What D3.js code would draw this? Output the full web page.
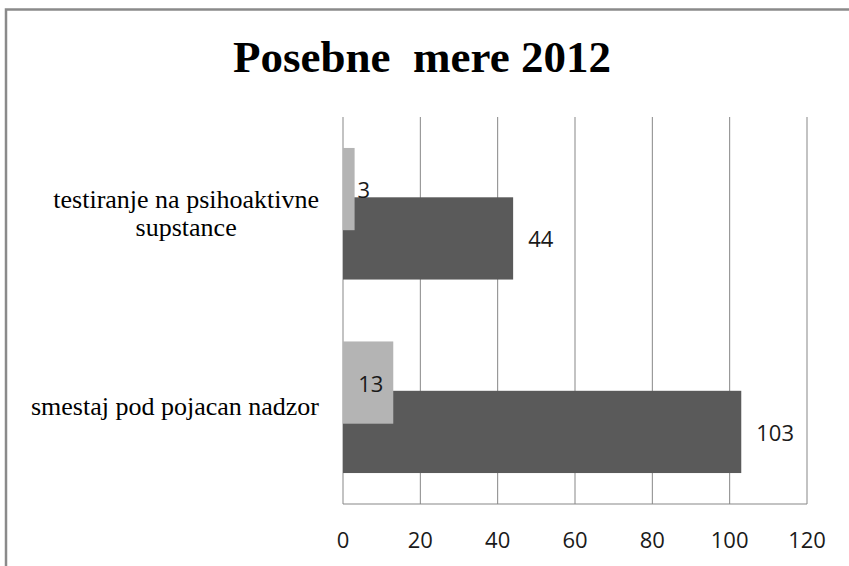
<!DOCTYPE html>
<html>
<head>
<meta charset="utf-8">
<script src="https://cdn.jsdelivr.net/npm/d3@7"></script>
<style>
  html, body { margin: 0; padding: 0; background: #fff; }
  svg { display: block; }
  .cat { font-family: "Liberation Serif", "Times New Roman", serif; font-size: 26px; fill: #000; }
</style>
</head>
<body>
<svg id="chart" width="849" height="566"></svg>
<script>
const TITLE = "Posebne\u00a0 mere 2012";
const categories = [
  ["testiranje na psihoaktivne", "supstance"],
  ["smestaj pod pojacan nadzor"]
];
const seriesNames = ["light", "dark"];
const lightValues = [3, 13];
const darkValues = [44, 103];
const xTicks = [0, 20, 40, 60, 80, 100, 120];

const width = 849, height = 566;
const plot = { left: 343, right: 807, top: 117, bottom: 504 };

const svg = d3.select("#chart");

// outer frame
svg.append("rect")
  .attr("x", 6).attr("y", 9.5)
  .attr("width", width + 20).attr("height", height + 20)
  .attr("fill", "none")
  .attr("stroke", "#8a8a8a")
  .attr("stroke-width", 2.5);

svg.append("text")
  .attr("x", 422).attr("y", 72)
  .attr("text-anchor", "middle")
  .attr("font-family", "'Liberation Serif', 'Times New Roman', serif")
  .attr("font-weight", "bold")
  .attr("font-size", 45)
  .attr("fill", "#000")
  .text(TITLE);

const x = d3.scaleLinear().domain([0, 120]).range([plot.left, plot.right]);

const y = d3.scaleBand()
  .domain(d3.range(categories.length))
  .range([plot.top, plot.bottom])
  .paddingInner(0).paddingOuter(0);

const barH = y.bandwidth() * 0.425;
const sub = d3.scalePoint()
  .domain(seriesNames)
  .range([-barH * 0.3, barH * 0.3]);

const center = (i) => y(i) + y.bandwidth() / 2;

// gridlines
svg.append("g")
  .selectAll("line")
  .data(xTicks)
  .enter()
  .append("line")
  .attr("x1", (d) => x(d)).attr("x2", (d) => x(d))
  .attr("y1", plot.top).attr("y2", plot.bottom)
  .attr("stroke", "#878787")
  .attr("stroke-width", 1);

// bottom axis line
svg.append("line")
  .attr("x1", plot.left).attr("x2", plot.right)
  .attr("y1", plot.bottom).attr("y2", plot.bottom)
  .attr("stroke", "#878787")
  .attr("stroke-width", 1);

// dark series first, light drawn over it
svg.append("g")
  .selectAll("rect")
  .data(darkValues)
  .enter()
  .append("rect")
  .attr("x", x(0))
  .attr("y", (d, i) => center(i) + sub("dark") - barH / 2)
  .attr("width", (d) => x(d) - x(0))
  .attr("height", barH)
  .attr("fill", "#5a5a5a");

svg.append("g")
  .selectAll("rect")
  .data(lightValues)
  .enter()
  .append("rect")
  .attr("x", x(0))
  .attr("y", (d, i) => center(i) + sub("light") - barH / 2)
  .attr("width", (d) => x(d) - x(0))
  .attr("height", barH)
  .attr("fill", "#b4b4b4");

const numFont = "'Open Sans', 'Noto Sans', sans-serif";

// value labels
svg.append("g")
  .selectAll("text")
  .data(darkValues)
  .enter()
  .append("text")
  .attr("x", (d) => x(d) + 15)
  .attr("y", (d, i) => center(i) + sub("dark") + 9)
  .attr("font-family", numFont)
  .attr("font-size", 22)
  .attr("fill", "#1a1a1a")
  .text((d) => d);

const lightLabelDx = [3, -35];
svg.append("g")
  .selectAll("text")
  .data(lightValues)
  .enter()
  .append("text")
  .attr("x", (d, i) => x(d) + lightLabelDx[i])
  .attr("y", (d, i) => center(i) + sub("light") + 9)
  .attr("font-family", numFont)
  .attr("font-size", 22)
  .attr("fill", "#1a1a1a")
  .text((d) => d);

// x tick labels
svg.append("g")
  .selectAll("text")
  .data(xTicks)
  .enter()
  .append("text")
  .attr("x", (d) => x(d))
  .attr("y", 548)
  .attr("text-anchor", "middle")
  .attr("font-family", numFont)
  .attr("font-size", 22)
  .attr("fill", "#1a1a1a")
  .text((d) => d);

// category labels: block right-aligned, lines centred inside the block
const catG = svg.append("g");

categories.forEach((lines, i) => {
  const lineH = 28;
  const t = catG.append("text").attr("class", "cat").attr("text-anchor", "middle");
  const spans = lines.map((ln, j) =>
    t.append("tspan")
      .attr("y", center(i) + 8 + (j - (lines.length - 1) / 2) * lineH)
      .text(ln)
  );
  const blockW = d3.max(spans, (s) => s.node().getComputedTextLength());
  const cx = 319 - blockW / 2;
  spans.forEach((s) => s.attr("x", cx));
});
</script>
</body>
</html>
